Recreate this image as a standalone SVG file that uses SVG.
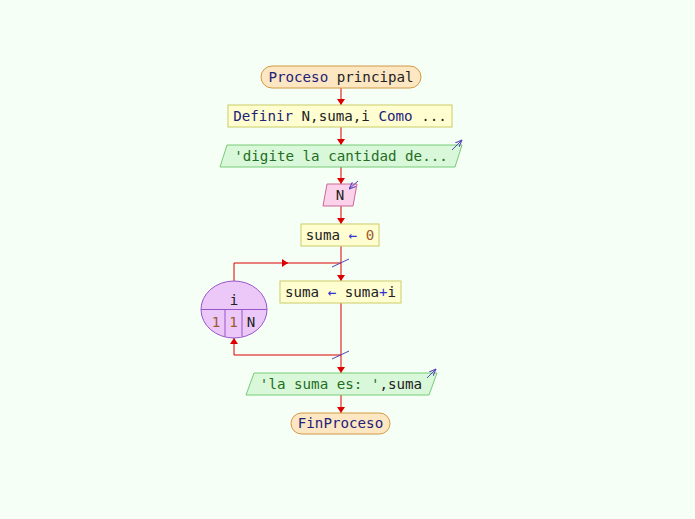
<svg xmlns="http://www.w3.org/2000/svg" width="695" height="519" viewBox="0 0 695 519">
<defs>
<marker id="ar" viewBox="0 0 6 8" refX="6" refY="4" markerWidth="6" markerHeight="8" markerUnits="userSpaceOnUse" orient="auto">
<path d="M0,0 L6,4 L0,8 z" fill="#dd0000"/>
</marker>
<marker id="ap" viewBox="0 0 10 10" refX="10" refY="5" markerWidth="7" markerHeight="7" markerUnits="userSpaceOnUse" orient="auto">
<path d="M0,1 L10,5 L0,9" fill="none" stroke="#5544bb" stroke-width="1.5"/>
</marker>
<style>
text{font-family:"DejaVu Sans Mono","Liberation Mono",monospace;font-size:14.2px;fill:#222;}
.kw{fill:#22227a;}
.op{fill:#3333cc;}
.num{fill:#a05a2c;}
.str{fill:#1f6e1f;}
.term{fill:#fde6c2;stroke:#d29a44;stroke-width:1;}
.proc{fill:#fefed0;stroke:#cccc66;stroke-width:1;}
.out{fill:#d9f7d9;stroke:#77cc77;stroke-width:1;}
.inp{fill:#fbd2ea;stroke:#cc6699;stroke-width:1;}
.loop{fill:#ebc8f8;stroke:#9955cc;stroke-width:1;}
.c{fill:none;stroke:#dd0000;stroke-width:1;}
.ic{fill:none;stroke:#5544bb;stroke-width:1;}
</style>
</defs>
<rect width="695" height="519" fill="#f5fff5"/>
<g id="connectors">
<path class="c" d="M341,88 V105" marker-end="url(#ar)"/>
<path class="c" d="M341,127 V145" marker-end="url(#ar)"/>
<path class="c" d="M341,167 V184" marker-end="url(#ar)"/>
<path class="c" d="M341,206 V224" marker-end="url(#ar)"/>
<path class="c" d="M341,246 V281" marker-end="url(#ar)"/>
<path class="c" d="M234,281 V263 H288" marker-end="url(#ar)"/>
<path class="c" d="M286,263 H341"/>
<path class="c" d="M341,303 V373" marker-end="url(#ar)"/>
<path class="c" d="M341,355 H234 V338" marker-end="url(#ar)"/>
<path class="c" d="M341,395 V413" marker-end="url(#ar)"/>
<line class="ic" x1="332" y1="267" x2="349" y2="259"/>
<line class="ic" x1="332" y1="359" x2="349" y2="351"/>
</g>
<g id="start">
<rect class="term" x="261" y="66" width="160" height="22" rx="11"/>
<text x="341" y="81.5" text-anchor="middle"><tspan class="kw">Proceso</tspan> principal</text>
</g>
<g id="define">
<rect class="proc" x="228" y="105" width="224" height="22"/>
<text x="340" y="121" text-anchor="middle"><tspan class="kw">Definir</tspan> N,suma,i <tspan class="kw">Como</tspan> ...</text>
</g>
<g id="output1">
<polygon class="out" points="227,145 462,145 455,167 220,167"/>
<text x="341" y="161" text-anchor="middle" class="str">'digite la cantidad de...</text>
<line class="ic" x1="452" y1="150" x2="462" y2="140" marker-end="url(#ap)"/>
</g>
<g id="input">
<polygon class="inp" points="327,184 357,184 353,206 323,206"/>
<text x="340" y="200" text-anchor="middle">N</text>
<line class="ic" x1="358" y1="181" x2="349" y2="189" marker-end="url(#ap)"/>
</g>
<g id="init">
<rect class="proc" x="301" y="224" width="78" height="22"/>
<text x="340" y="240" text-anchor="middle">suma <tspan class="op">←</tspan> <tspan class="num">0</tspan></text>
</g>
<g id="loop">
<ellipse class="loop" cx="234" cy="309.5" rx="33" ry="28.5"/>
<line x1="201" y1="309.5" x2="267" y2="309.5" stroke="#9955cc" stroke-width="1"/>
<line x1="225" y1="309.5" x2="225" y2="336.5" stroke="#9955cc" stroke-width="1"/>
<line x1="242" y1="309.5" x2="242" y2="336.5" stroke="#9955cc" stroke-width="1"/>
<text x="234" y="305" text-anchor="middle">i</text>
<text x="216" y="327" text-anchor="middle" class="num">1</text>
<text x="233.5" y="327" text-anchor="middle" class="num">1</text>
<text x="251" y="327" text-anchor="middle">N</text>
</g>
<g id="body">
<rect class="proc" x="280" y="281" width="121" height="22"/>
<text x="340.5" y="297" text-anchor="middle">suma <tspan class="op">←</tspan> suma<tspan class="op">+</tspan>i</text>
</g>
<g id="output2">
<polygon class="out" points="254,373 437,373 429,395 246,395"/>
<text x="341" y="389" text-anchor="middle" class="str">'la suma es: '<tspan fill="#222">,suma</tspan></text>
<line class="ic" x1="427" y1="378" x2="436" y2="369" marker-end="url(#ap)"/>
</g>
<g id="end">
<rect class="term" x="291" y="413" width="99" height="21" rx="10.5"/>
<text x="340.5" y="428" text-anchor="middle" class="kw">FinProceso</text>
</g>
</svg>
